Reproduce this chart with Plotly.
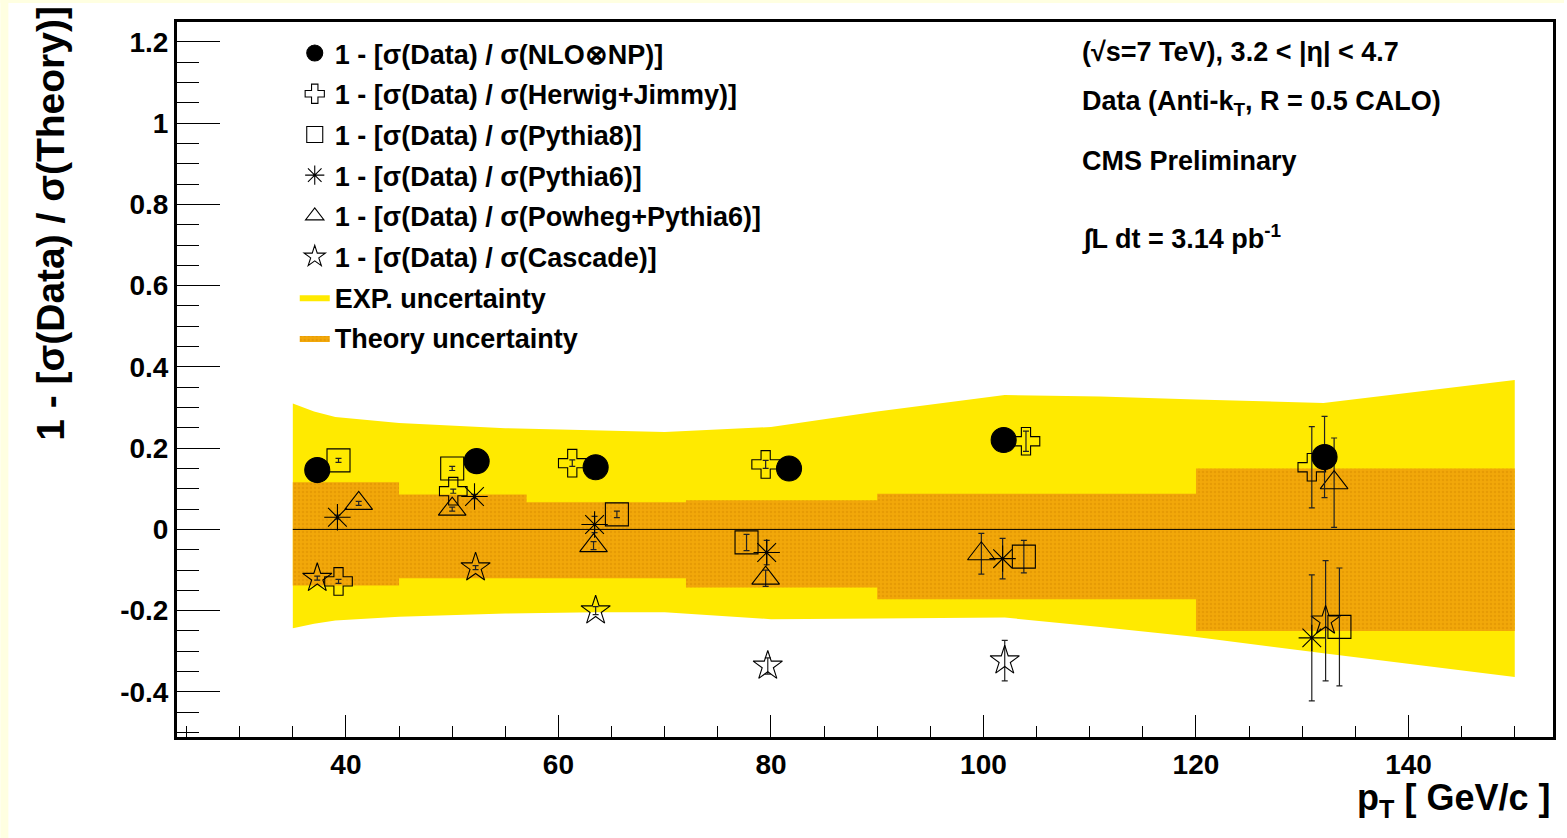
import plotly.graph_objects as go

# ---------------- data ----------------
PT_NLO = [37.3, 52.3, 63.5, 81.7, 101.9, 132.1]
V_NLO = [0.146, 0.168, 0.153, 0.150, 0.220, 0.178]
E_NLO = [0.005, 0.005, 0.008, 0.010, 0.020, 0.100]

PT_HERWIG = [39.3, 50.1, 61.3, 79.5, 104.0, 130.9]
V_HERWIG = [-0.128, 0.094, 0.163, 0.160, 0.217, 0.153]
E_HERWIG = [0.005, 0.005, 0.008, 0.010, 0.025, 0.100]

PT_PY8 = [39.3, 50.0, 65.5, 77.7, 103.8, 133.5]
V_PY8 = [0.170, 0.150, 0.037, -0.032, -0.067, -0.240]
E_PY8 = [0.005, 0.005, 0.008, 0.020, 0.040, 0.145]

PT_PY6 = [39.2, 52.1, 63.4, 79.6, 101.8, 130.9]
V_PY6 = [0.030, 0.081, 0.012, -0.057, -0.072, -0.267]
E_PY6 = [0.005, 0.005, 0.020, 0.030, 0.050, 0.155]

PT_POWHEG = [41.2, 50.0, 63.3, 79.5, 99.8, 133.0]
V_POWHEG = [0.064, 0.050, -0.040, -0.120, -0.060, 0.115]
E_POWHEG = [0.005, 0.005, 0.010, 0.020, 0.050, 0.110]

PT_CASCADE = [37.3, 52.2, 63.5, 79.7, 102.0, 132.2]
V_CASCADE = [-0.120, -0.094, -0.200, -0.336, -0.323, -0.225]
E_CASCADE = [0.005, 0.005, 0.010, 0.020, 0.050, 0.148]

# experimental uncertainty band (yellow)
EXP_PT = [35, 37, 39, 45, 55, 63.5, 70, 80, 90, 102, 111, 120, 132, 150]
EXP_HI = [0.310, 0.290, 0.277, 0.262, 0.249, 0.243, 0.240, 0.252, 0.290, 0.331, 0.327, 0.320, 0.311, 0.368]
EXP_LO = [-0.243, -0.232, -0.224, -0.215, -0.207, -0.204, -0.204, -0.221, -0.219, -0.217, -0.240, -0.265, -0.305, -0.363]

# theory uncertainty band (orange, binned)
TH_EDGES = [35, 45, 57, 72, 90, 120, 150]
TH_HI = [0.116, 0.086, 0.067, 0.072, 0.088, 0.150]
TH_LO = [-0.138, -0.120, -0.120, -0.143, -0.172, -0.250]

ZERO_X = [35, 150]
ZERO_Y = [0, 0]

Y_TICKS = [-0.4, -0.2, 0, 0.2, 0.4, 0.6, 0.8, 1, 1.2]
Y_TICK_TEXT = ["-0.4", "-0.2", "0", "0.2", "0.4", "0.6", "0.8", "1", "1.2"]
X_TICKS = [40, 60, 80, 100, 120, 140]
X_TICK_TEXT = ["40", "60", "80", "100", "120", "140"]

# ---------------- figure ----------------
W, H = 1567, 838
ML, MR, MT, MB = 177, 11, 22, 101
PW, PH = W - ML - MR, H - MT - MB


def px_x(p):
    return (p - ML) / PW


def px_y(p):
    return (H - MB - p) / PH


FONT = "Liberation Sans, Arial, Helvetica, sans-serif"

fig = go.Figure()

# EXP band
fig.add_trace(go.Scatter(
    x=EXP_PT + EXP_PT[::-1], y=EXP_HI + EXP_LO[::-1],
    fill="toself", fillcolor="#FFEA00", mode="lines",
    line=dict(width=0, color="#8a8a20"),
    name="<b>EXP. uncertainty</b>", legendrank=7, legendgroup="g7",
    hoverinfo="skip"))

# Theory band (step polygon)
tx, thi, tlo = [], [], []
for i in range(len(TH_HI)):
    tx += [TH_EDGES[i], TH_EDGES[i + 1]]
    thi += [TH_HI[i], TH_HI[i]]
    tlo += [TH_LO[i], TH_LO[i]]
fig.add_trace(go.Scatter(
    x=tx + tx[::-1], y=thi + tlo[::-1],
    fill="toself", fillcolor="#F0A308", mode="lines",
    line=dict(width=0, color="#E08800"),
    fillpattern=dict(shape=".", bgcolor="#F2A80A", fgcolor="#D98E00",
                     size=4, solidity=0.35),
    name="<b>Theory uncertainty</b>", legendrank=8, legendgroup="g8",
    hoverinfo="skip"))

# zero line
fig.add_trace(go.Scatter(x=ZERO_X, y=ZERO_Y, mode="lines",
                         line=dict(color="black", width=1),
                         showlegend=False, hoverinfo="skip"))

series = [
    ("1 - [σ(Data) / σ(Cascade)]", PT_CASCADE, V_CASCADE, E_CASCADE, "star-open", 22, 6),
    ("1 - [σ(Data) / σ(Powheg+Pythia6)]", PT_POWHEG, V_POWHEG, E_POWHEG, "triangle-up-open", 24, 5),
    ("1 - [σ(Data) / σ(Pythia6)]", PT_PY6, V_PY6, E_PY6, "asterisk-open", 22, 4),
    ("1 - [σ(Data) / σ(Pythia8)]", PT_PY8, V_PY8, E_PY8, "square-open", 23, 3),
    ("1 - [σ(Data) / σ(Herwig+Jimmy)]", PT_HERWIG, V_HERWIG, E_HERWIG, "cross-open", 23, 2),
    ("1 - [σ(Data) / σ(NLO⊗NP)]", PT_NLO, V_NLO, E_NLO, "circle", 25, 1),
]
for name, xs, ys, es, sym, size, rank in series:
    fig.add_trace(go.Scatter(
        x=xs, y=ys, mode="markers", name="<b>" + name + "</b>",
        legendrank=rank, legendgroup="g%d" % rank,
        marker=dict(symbol=sym, size=size, color="black",
                    line=dict(color="black", width=1.1)),
        error_y=dict(type="data", array=es, visible=True, color="#222222",
                     thickness=1.2, width=3)))

axis_common = dict(showline=True, linewidth=3, linecolor="black", mirror=True,
                   ticks="inside", tickcolor="black", tickwidth=1,
                   showgrid=False, zeroline=False,
                   tickfont=dict(family=FONT, size=28, color="black", weight="bold"))

fig.update_xaxes(range=[24.1, 153.6], tickvals=X_TICKS, ticktext=X_TICK_TEXT,
                 ticklen=22,
                 minor=dict(dtick=5, tick0=0, ticks="inside", ticklen=11,
                            tickcolor="black", tickwidth=1, showgrid=False),
                 **axis_common)
fig.update_yaxes(range=[-0.511, 1.249], tickvals=Y_TICKS, ticktext=Y_TICK_TEXT,
                 ticklen=43,
                 minor=dict(dtick=0.05, tick0=0, ticks="inside", ticklen=22,
                            tickcolor="black", tickwidth=1, showgrid=False),
                 **axis_common)

ann_font = dict(family=FONT, size=27, color="black", weight="bold")
annotations = [
    dict(text="1 - [σ(Data) / σ(Theory)]", x=px_x(50), y=px_y(4),
         xanchor="center", yanchor="top", textangle=-90,
         font=dict(family=FONT, size=39, color="black", weight="bold")),
    dict(text="p<sub>T</sub> [ GeV/c ]", x=px_x(1555), y=px_y(800),
         xanchor="right", yanchor="middle",
         font=dict(family=FONT, size=36, color="black", weight="bold")),
    dict(text="(√s=7 TeV), 3.2 < |η| < 4.7", x=px_x(1082), y=px_y(52),
         xanchor="left", yanchor="middle", font=ann_font),
    dict(text="Data (Anti-k<sub>T</sub>, R = 0.5 CALO)", x=px_x(1082), y=px_y(103),
         xanchor="left", yanchor="middle", font=ann_font),
    dict(text="CMS Preliminary", x=px_x(1082), y=px_y(161),
         xanchor="left", yanchor="middle", font=ann_font),
    dict(text="∫L dt = 3.14 pb<sup>-1</sup>", x=px_x(1082), y=px_y(237),
         xanchor="left", yanchor="middle", font=ann_font),
]
for a in annotations:
    a.update(xref="paper", yref="paper", showarrow=False)

shapes = [
    dict(type="rect", xref="paper", yref="paper", x0=px_x(0), x1=px_x(8),
         y0=px_y(H), y1=px_y(0), fillcolor="#FFFFE1", line=dict(width=0), layer="below"),
    dict(type="rect", xref="paper", yref="paper", x0=px_x(0), x1=px_x(W),
         y0=px_y(3), y1=px_y(0), fillcolor="#FFFFE1", line=dict(width=0), layer="below"),
]

fig.update_layout(
    width=W, height=H, autosize=False,
    margin=dict(l=ML, r=MR, t=MT, b=MB, pad=0),
    paper_bgcolor="white", plot_bgcolor="white",
    font=dict(family=FONT, color="black"),
    showlegend=True,
    legend=dict(x=px_x(295), y=px_y(29), xanchor="left", yanchor="top",
                bgcolor="rgba(0,0,0,0)", borderwidth=0,
                traceorder="grouped", tracegroupgap=2.6,
                font=dict(family=FONT, size=27, color="black"),
                itemsizing="trace"),
    annotations=annotations, shapes=shapes,
)

fig.write_html("out.html")
